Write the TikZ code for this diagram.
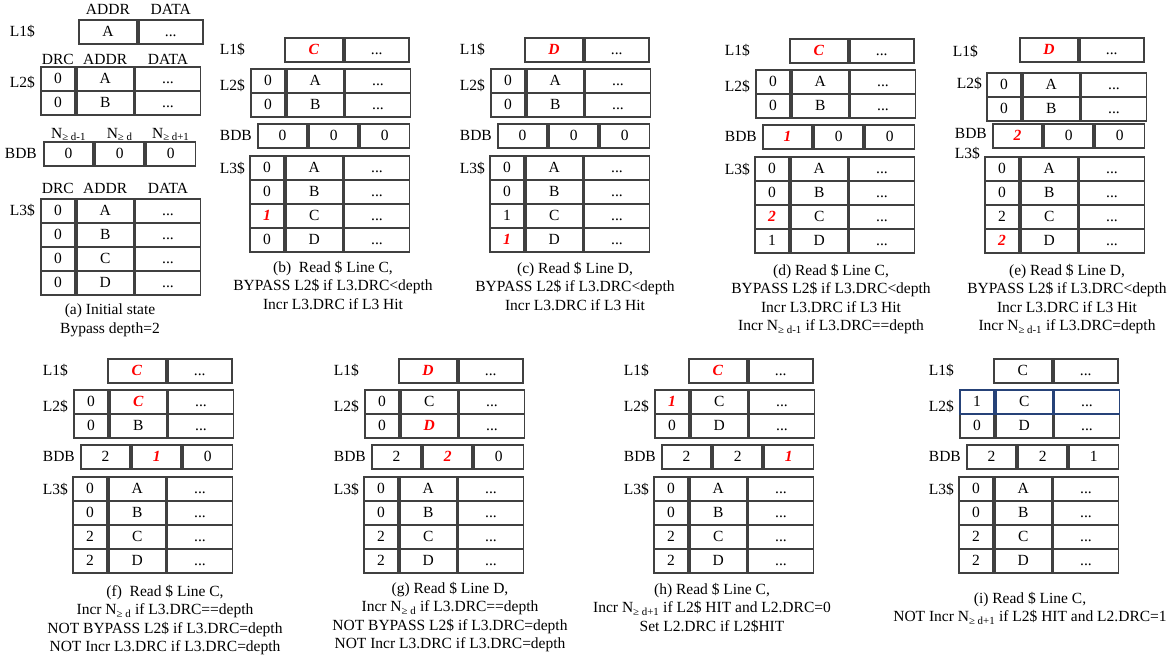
\documentclass[tikz,border=0pt]{standalone}
\usepackage{fontspec}
\setmainfont{Liberation Serif}
\usepackage{tikz}
\usetikzlibrary{positioning}

\definecolor{cellgray}{RGB}{64,64,64}
\definecolor{rowblue}{RGB}{38,66,120}

\newcommand{\chg}[1]{\textcolor{red}{\bfseries\itshape #1}}
\newcommand{\nge}[1]{N\textsubscript{≥ #1}}

% one L1 line: x, y, addr
\newcommand{\lone}[3]{%
  \node[cell, minimum width=58pt, anchor=north west] (l1a) at (#1,#2) {#3};
  \node[cell, minimum width=64pt, anchor=west] (l1v) at (l1a.east) {...};}
% one L2/L3 line: [style], name, x, y, drc, addr
\newcommand{\trow}[6][]{%
  \node[cell, #1, minimum width=34pt, anchor=north west] (#2d) at (#3,#4) {#5};
  \node[cell, #1, minimum width=57pt, anchor=west] (#2a) at (#2d.east) {#6};
  \node[cell, #1, minimum width=65pt, anchor=west] (#2v) at (#2a.east) {...};}
% bypass depth buffer: x, y, three counters
\newcommand{\bdbrow}[5]{%
  \node[cell, minimum width=49.3pt, anchor=north west] (b1) at (#1,#2) {#3};
  \node[cell, minimum width=49.3pt, anchor=west] (b2) at (b1.east) {#4};
  \node[cell, minimum width=49.3pt, anchor=west] (b3) at (b2.east) {#5};}
% L3 with lines A..D
\newcommand{\lthree}[4]{%
  \trow{r1}{0}{0}{#1}{A}
  \trow{r2}{0}{24}{#2}{B}
  \trow{r3}{0}{48}{#3}{C}
  \trow{r4}{0}{72}{#4}{D}}
\newcommand{\cachelabels}{%
  \node[lbl] (t1) at (-4,-106) {L1\$};
  \node[lbl] (t2) at (-4,-70) {L2\$};
  \node[lbl] (t3) at (3,-20) {BDB};
  \node[lbl] (t4) at (-4,13) {L3\$};}

\tikzset{
  cell/.style={draw=cellgray, line width=1.8pt, inner sep=0pt, minimum height=24pt,
    text height=10pt, text depth=0pt},
  lbl/.style={inner sep=0pt, anchor=east},
  hdr/.style={inner sep=0pt},
  capt/.style={inner sep=0pt, anchor=north, align=center},
}

\begin{document}
\begin{tikzpicture}[x=1pt, y=-1pt, font=\fontsize{15.5}{18.4}\selectfont]
  \useasboundingbox (0,0) rectangle (1174,658);

  % (a) initial state
  \begin{scope}[shift={(40,198)}, name prefix=a-]
    \lone{38}{-179}{A}
    \trow{m1}{0}{-132}{0}{A}
    \trow{m2}{0}{-108}{0}{B}
    \bdbrow{3}{-57}{0}{0}{0}
    \lthree{0}{0}{0}{0}
    \node[hdr, above=4pt of l1a] (h1) {ADDR};
    \node[hdr, above=4pt of l1v] (h2) {DATA};
    \node[hdr, above=1pt of m1d] (h3) {DRC};
    \node[hdr, above=1pt of m1a] (h4) {ADDR};
    \node[hdr, above=1pt of m1v] (h5) {DATA};
    \node[hdr, above=0pt of b1] (h6) {\nge{d-1}};
    \node[hdr, above=0pt of b2] (h7) {\nge{d}};
    \node[hdr, above=0pt of b3] (h8) {\nge{d+1}};
    \node[hdr, above=4pt of r1d] (h9) {DRC};
    \node[hdr, above=4pt of r1a] (h10) {ADDR};
    \node[hdr, above=4pt of r1v] (h11) {DATA};
    \node[lbl] (t1) at (-5,-167) {L1\$};
    \node[lbl] (t2) at (-5,-116) {L2\$};
    \node[lbl] (t3) at (-3,-45) {BDB};
    \node[lbl] (t4) at (-5,12) {L3\$};
    \node[capt] (cap) at (70,106) {(a) Initial state\\Bypass depth=2};
  \end{scope}

  % (b)
  \begin{scope}[shift={(249,155)}, name prefix=b-]
    \lone{35}{-118}{\chg{C}}
    \trow{m1}{1}{-87}{0}{A}
    \trow{m2}{1}{-63}{0}{B}
    \bdbrow{8}{-32}{0}{0}{0}
    \lthree{0}{0}{\chg{1}}{0}
    \cachelabels
    \node[capt] (cap) at (84,106) {(b)\ \ Read \$ Line C,\\BYPASS L2\$ if L3.DRC<depth\\Incr L3.DRC if L3 Hit};
  \end{scope}

  % (c)
  \begin{scope}[shift={(489,155)}, name prefix=c-]
    \lone{35}{-118}{\chg{D}}
    \trow{m1}{1}{-87}{0}{A}
    \trow{m2}{1}{-63}{0}{B}
    \bdbrow{8}{-32}{0}{0}{0}
    \lthree{0}{0}{1}{\chg{1}}
    \cachelabels
    \node[capt] (cap) at (86,107) {(c) Read \$ Line D,\\BYPASS L2\$ if L3.DRC<depth\\Incr L3.DRC if L3 Hit};
  \end{scope}

  % (d)
  \begin{scope}[shift={(754,156)}, name prefix=d-]
    \lone{35}{-118}{\chg{C}}
    \trow{m1}{1}{-87}{0}{A}
    \trow{m2}{1}{-63}{0}{B}
    \bdbrow{8}{-32}{\chg{1}}{0}{0}
    \lthree{0}{0}{\chg{2}}{1}
    \cachelabels
    \node[capt] (cap) at (77,108) {(d) Read \$ Line C,\\BYPASS L2\$ if L3.DRC<depth\\Incr L3.DRC if L3 Hit\\Incr \nge{d-1} if L3.DRC==depth};
  \end{scope}

  % (e)
  \begin{scope}[shift={(984,156)}, name prefix=e-]
    \lone{35}{-119}{\chg{D}}
    \trow{m1}{2}{-84}{0}{A}
    \trow{m2}{2}{-60}{0}{B}
    \bdbrow{8}{-33}{\chg{2}}{0}{0}
    \lthree{0}{0}{2}{\chg{2}}
    \node[lbl] (t1) at (-6,-105) {L1\$};
    \node[lbl] (t2) at (-2,-73) {L2\$};
    \node[lbl] (t3) at (3,-23) {BDB};
    \node[lbl] (t4) at (-4,-3) {L3\$};
    \node[capt] (cap) at (83,108) {(e) Read \$ Line D,\\BYPASS L2\$ if L3.DRC<depth\\Incr L3.DRC if L3 Hit\\Incr \nge{d-1} if L3.DRC=depth};
  \end{scope}

  % (f)
  \begin{scope}[shift={(72,476)}, name prefix=f-]
    \lone{35}{-118}{\chg{C}}
    \trow{m1}{1}{-87}{0}{\chg{C}}
    \trow{m2}{1}{-63}{0}{B}
    \bdbrow{8}{-32}{2}{\chg{1}}{0}
    \lthree{0}{0}{2}{2}
    \cachelabels
    \node[capt] (cap) at (93,109) {(f)\ \ Read \$ Line C,\\Incr \nge{d} if L3.DRC==depth\\NOT BYPASS L2\$ if L3.DRC=depth\\NOT Incr L3.DRC if L3.DRC=depth};
  \end{scope}

  % (g)
  \begin{scope}[shift={(363,476)}, name prefix=g-]
    \lone{35}{-118}{\chg{D}}
    \trow{m1}{1}{-87}{0}{C}
    \trow{m2}{1}{-63}{0}{\chg{D}}
    \bdbrow{8}{-32}{2}{\chg{2}}{0}
    \lthree{0}{0}{2}{2}
    \cachelabels
    \node[capt] (cap) at (87,106) {(g) Read \$ Line D,\\Incr \nge{d} if L3.DRC==depth\\NOT BYPASS L2\$ if L3.DRC=depth\\NOT Incr L3.DRC if L3.DRC=depth};
  \end{scope}

  % (h)
  \begin{scope}[shift={(653,476)}, name prefix=h-]
    \lone{35}{-118}{\chg{C}}
    \trow{m1}{1}{-87}{\chg{1}}{C}
    \trow{m2}{1}{-63}{0}{D}
    \bdbrow{8}{-32}{2}{2}{\chg{1}}
    \lthree{0}{0}{2}{2}
    \cachelabels
    \node[capt] (cap) at (59,107) {(h) Read \$ Line C,\\Incr \nge{d+1} if L2\$ HIT and L2.DRC=0\\Set L2.DRC if L2\$HIT};
  \end{scope}

  % (i)
  \begin{scope}[shift={(958,476)}, name prefix=i-]
    \lone{35}{-118}{C}
    \trow{m2}{1}{-63}{0}{D}
    \trow[draw=rowblue]{m1}{1}{-87}{1}{C}
    \bdbrow{8}{-32}{2}{2}{1}
    \lthree{0}{0}{2}{2}
    \cachelabels
    \node[capt] (cap) at (72,116) {(i) Read \$ Line C,\\NOT Incr \nge{d+1} if L2\$ HIT and L2.DRC=1};
  \end{scope}
\end{tikzpicture}
\end{document}
